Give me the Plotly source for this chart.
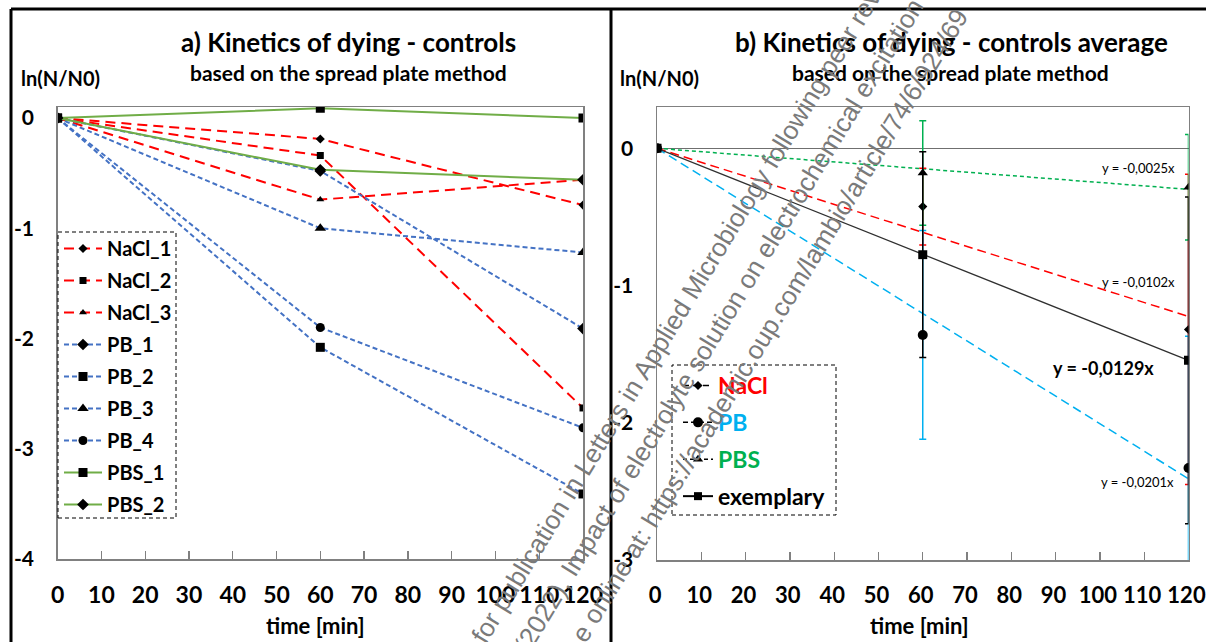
import numpy as np
import plotly.graph_objects as go

# ---------------- data ----------------
time = [0, 60, 120]

# panel a) individual controls, ln(N/N0)
nacl_1 = [0, -0.19, -0.79]
nacl_2 = [0, -0.34, -2.63]
nacl_3 = [0, -0.74, -0.56]
pb_1 = [0, -0.48, -1.91]
pb_2 = [0, -2.08, -3.41]
pb_3 = [0, -1.00, -1.22]
pb_4 = [0, -1.90, -2.81]
pbs_1 = [0, 0.088, 0.0]
pbs_2 = [0, -0.47, -0.56]

# panel b) averages with error bars
nacl_mean = [0, -0.425, -1.32]
nacl_err = [0, 0.28, 1.13]
pb_mean = [0, -1.36, -2.33]
pb_err = [0, 0.76, 0.96]
pbs_mean = [0, -0.18, -0.284]
pbs_err = [0, 0.38, 0.385]
exemplary = [0, -0.775, -1.545]
exemplary_err = [0, 0.75, 1.19]

x_ticks = [0, 10, 20, 30, 40, 50, 60, 70, 80, 90, 100, 110, 120]
y_ticks_a = [0, -1, -2, -3, -4]
y_ticks_b = [0, -1, -2, -3]

# ---------------- helpers ----------------
W, H = 1206, 642
def px(p):
    return p / W
def py(p):
    return 1 - p / H

FONT = "Lato"
RED = "#FF0000"
BLUE = "#4472C4"
GREEN = "#70AD47"
CYAN = "#00B0F0"
GREEN2 = "#00B050"
GRAY = "#808080"

fig = go.Figure()

# ---------------- panel a ----------------
series_a = [
    ("NaCl_1", nacl_1, RED, "10px,6px", "diamond", 7),
    ("NaCl_2", nacl_2, RED, "10px,6px", "square", 7),
    ("NaCl_3", nacl_3, RED, "10px,6px", "triangle-up", 7),
    ("PB_1", pb_1, BLUE, "5px,3px", "diamond", 9),
    ("PB_2", pb_2, BLUE, "5px,3px", "square", 9),
    ("PB_3", pb_3, BLUE, "5px,3px", "triangle-up", 10),
    ("PB_4", pb_4, BLUE, "5px,3px", "circle", 9),
    ("PBS_1", pbs_1, GREEN, "solid", "square", 9),
    ("PBS_2", pbs_2, GREEN, "solid", "diamond", 9),
]
for name, vals, col, dash, sym, sz in series_a:
    fig.add_trace(go.Scatter(
        x=time, y=vals, name=name, mode="lines+markers",
        line=dict(color=col, width=2, dash=dash),
        marker=dict(symbol=sym, size=sz, color="black"),
        xaxis="x", yaxis="y", legend="legend", legendgroup=name,
        hoverinfo="skip"))

# ---------------- panel b ----------------
t = np.array(time, dtype=float)
def fit_origin(vals):
    v = np.array(vals, dtype=float)
    return float((t * v).sum() / (t * t).sum())

trend_specs = [
    (nacl_mean, RED, "9px,5px"),
    (pb_mean, CYAN, "9px,5px"),
    (pbs_mean, GREEN2, "4px,3px"),
]
slopes = {}
for vals, col, dash in trend_specs:
    s = fit_origin(vals)
    slopes[col] = s
    fig.add_trace(go.Scatter(
        x=[t[0], t[-1]], y=[s * t[0], s * t[-1]], mode="lines",
        line=dict(color=col, width=1.5, dash=dash),
        xaxis="x2", yaxis="y2", showlegend=False, hoverinfo="skip"))

mean_specs = [
    ("NaCl", nacl_mean, nacl_err, RED, "diamond", 7),
    ("PB", pb_mean, pb_err, CYAN, "circle", 10),
    ("PBS", pbs_mean, pbs_err, GREEN2, "triangle-up", 9),
]
for name, vals, err, col, sym, sz in mean_specs:
    fig.add_trace(go.Scatter(
        x=time, y=vals, mode="markers",
        marker=dict(symbol=sym, size=sz, color="black"),
        error_y=dict(type="data", array=err, color=col, thickness=1.5, width=3.5),
        xaxis="x2", yaxis="y2", showlegend=False, hoverinfo="skip"))

fig.add_trace(go.Scatter(
    x=time, y=exemplary, mode="lines+markers",
    line=dict(color="#303030", width=1.3),
    marker=dict(symbol="square", size=9, color="black"),
    error_y=dict(type="data", array=exemplary_err, color="black", thickness=1.5, width=3.5),
    xaxis="x2", yaxis="y2", showlegend=False, hoverinfo="skip"))
slope_ex = fit_origin(exemplary)

# legend proxies for panel b (legend entries only)
legend_b = [
    ("NaCl", RED, "6px,4px", "diamond", 7),
    ("PB", CYAN, "5px,3px", "circle", 10),
    ("PBS", GREEN2, "4px,3px", "triangle-up", 9),
]
for name, col, dash, sym, sz in legend_b:
    fig.add_trace(go.Scatter(
        x=[None], y=[None], mode="lines+markers",
        name=f"<span style='color:{col}'>{name}</span>",
        line=dict(color="black", width=1.5, dash=dash),
        marker=dict(symbol=sym, size=sz, color="black"),
        xaxis="x2", yaxis="y2", legend="legend2", legendgroup=name))
fig.add_trace(go.Scatter(
    x=[None], y=[None], mode="lines+markers", name="exemplary",
    line=dict(color="black", width=2),
    marker=dict(symbol="square", size=8, color="black"),
    xaxis="x2", yaxis="y2", legend="legend2", legendgroup="exemplary"))

def eq(s):
    return ("y = %.4fx" % s).replace(".", ",")

# ---------------- axes ----------------
ytickfont = dict(family=FONT, size=21, color="black", weight="bold")
common_x = dict(range=[0, 120], tickvals=x_ticks, ticktext=[str(v) for v in x_ticks],
                tickangle=0, ticks="inside", ticklen=8, tickwidth=1.3, tickcolor=GRAY,
                showline=True, linecolor=GRAY, linewidth=1.5, mirror=True,
                showgrid=False, zeroline=False,
                ticklabelstandoff=15, ticklabeloverflow="allow", fixedrange=True)
common_y = dict(ticks="", showline=True, linecolor=GRAY, linewidth=1.5, mirror=True,
                showgrid=False, tickfont=ytickfont, ticklabelstandoff=18, fixedrange=True)

fig.update_layout(
    width=W, height=H, margin=dict(l=0, r=0, t=0, b=0, autoexpand=False),
    paper_bgcolor="white", plot_bgcolor="white",
    xaxis=dict(domain=[px(57.6), px(583)], anchor="y",
               tickfont=dict(family=FONT, size=23, color="black", weight="bold"), **common_x),
    yaxis=dict(domain=[py(559), py(107)], anchor="x", range=[-4, 0.1],
               tickvals=y_ticks_a, ticktext=[str(v) for v in y_ticks_a],
               zeroline=False, **common_y),
    xaxis2=dict(domain=[px(657), px(1188.5)], anchor="y2", ticklabelshift=-2,
                tickfont=dict(family=FONT, size=22, color="black", weight="bold"), **common_x),
    yaxis2=dict(domain=[py(560), py(107.1)], anchor="x2", range=[-3, 0.3],
                tickvals=y_ticks_b, ticktext=[str(v) for v in y_ticks_b],
                zeroline=True, zerolinecolor="#6f6f6f", zerolinewidth=1.5, **common_y),
    legend=dict(x=px(59), y=py(229), xanchor="left", yanchor="top",
                bgcolor="rgba(0,0,0,0)", borderwidth=0,
                font=dict(family=FONT, size=20, color="black", weight="bold"),
                itemwidth=38, tracegroupgap=3, traceorder="grouped"),
    legend2=dict(x=px(678), y=py(364), xanchor="left", yanchor="top",
                 bgcolor="rgba(0,0,0,0)", borderwidth=0,
                 font=dict(family=FONT, size=23, color="black", weight="bold"),
                 itemwidth=30, tracegroupgap=4, traceorder="grouped"),
    showlegend=True,
    hovermode=False,
)

# ---------------- text ----------------
ann = []
def t_paper(text, x, y, size, weight="bold", color="black"):
    ann.append(dict(text=text, x=px(x), y=py(y), xref="paper", yref="paper",
                    showarrow=False, xanchor="center", yanchor="middle",
                    font=dict(family=FONT, size=size, color=color, weight=weight)))

t_paper("a) Kinetics of dying - controls", 348, 42, 26)
t_paper("based on the spread plate method", 348, 73, 21)
t_paper("ln(N/N0)", 60, 78, 20)
t_paper("time [min]", 316, 625, 22)

t_paper("b) Kinetics of dying - controls average", 951, 42, 26)
t_paper("based on the spread plate method", 950, 72, 21)
t_paper("ln(N/N0)", 660, 78, 20)
t_paper("time [min]", 919, 625, 22)

# trendline equations (data coords of panel b)
for txt, xx, yy, sz, wt in [
    (eq(slopes[GREEN2]), 108.6, -0.144, 13, "normal"),
    (eq(slopes[RED]), 108.6, -0.974, 13, "normal"),
    (eq(slope_ex), 100.8, -1.60, 18, "bold"),
    (eq(slopes[CYAN]), 108.4, -2.43, 13, "normal"),
]:
    ann.append(dict(text=txt, x=xx, y=yy, xref="x2", yref="y2", showarrow=False,
                    xanchor="center", yanchor="middle",
                    font=dict(family=FONT, size=sz, color="black", weight=wt)))

# watermark lines (diagonal)
wm = [
    ("for publication in Letters in Applied Microbiology following peer review. The version of record", 463, 651),
    ("(2022), Impact of electrolyte solution on electrochemical excitation of bacteria", 505, 661),
    ("e online at: https://academic.oup.com/lambio/article/74/6/924/69", 563, 650),
]
for txt, xx, yy in wm:
    ann.append(dict(text=txt, x=px(xx), y=py(yy), xref="paper", yref="paper",
                    showarrow=False, xanchor="left", yanchor="bottom", textangle=-58.6,
                    font=dict(family="Liberation Sans", size=26, color="#7a7a7a")))

fig.update_layout(annotations=ann)

# ---------------- frame & legend boxes ----------------
shapes = [
    dict(type="line", xref="paper", yref="paper", x0=px(11), x1=1, y0=py(9), y1=py(9),
         line=dict(color="black", width=3)),
    dict(type="line", xref="paper", yref="paper", x0=px(11), x1=px(11), y0=py(9), y1=0,
         line=dict(color="black", width=3)),
    dict(type="line", xref="paper", yref="paper", x0=px(611), x1=px(611), y0=py(9), y1=0,
         line=dict(color="black", width=3)),
    dict(type="rect", xref="paper", yref="paper", x0=px(58), x1=px(176), y0=py(518), y1=py(232),
         line=dict(color="black", width=1, dash="4px,3px")),
    dict(type="rect", xref="paper", yref="paper", x0=px(672), x1=px(836), y0=py(515), y1=py(365),
         line=dict(color="black", width=1, dash="4px,3px")),
]
fig.update_layout(shapes=shapes)

fig.write_html("out.html", config={"displayModeBar": False, "staticPlot": True},
               post_script="document.body.style.margin='0px';document.body.style.overflow='hidden';")
